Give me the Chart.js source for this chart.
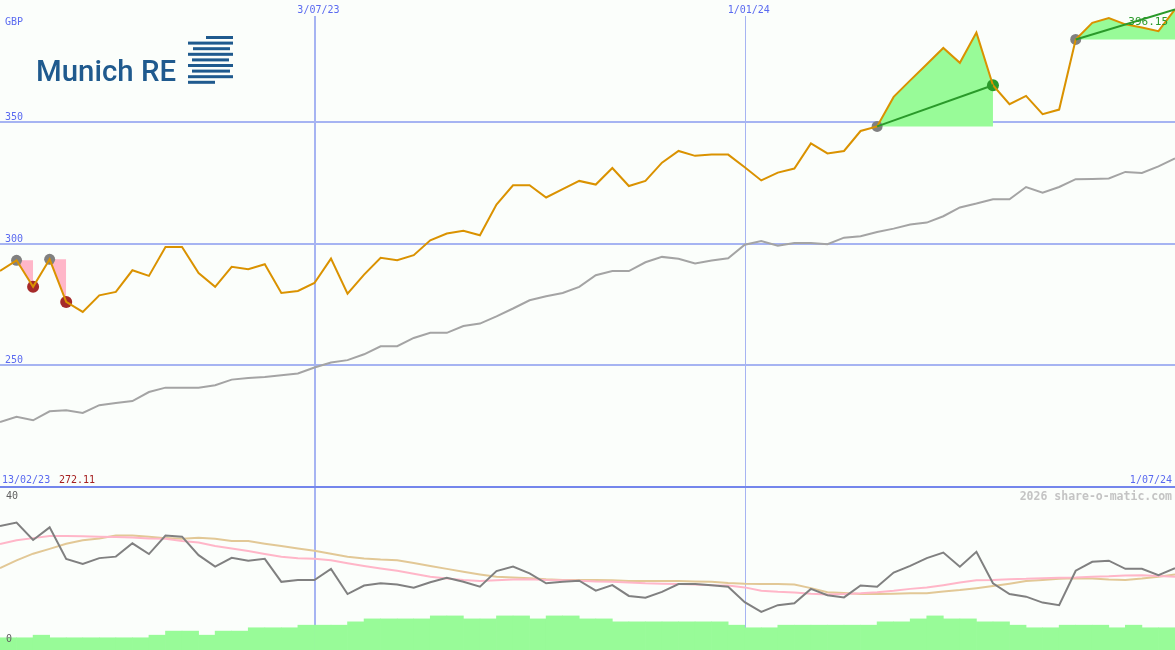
<!DOCTYPE html>
<html>
<head>
<meta charset="utf-8">
<title>Munich RE</title>
<script src="https://cdn.jsdelivr.net/npm/chart.js@4.4.1/dist/chart.umd.min.js"></script>
<style>
  html, body { margin: 0; padding: 0; background: #fbfefb; }
  #wrap { width: 1175px; height: 650px; overflow: hidden; }
  canvas { display: block; }
</style>
</head>
<body>
<div id="wrap">
  <canvas id="priceChart" width="1175" height="487"></canvas>
  <canvas id="oscChart" width="1175" height="163"></canvas>
</div>
<script>
// weekly closes, GBP (index 0 = 13/02/23, index 71 = 1/07/24)
const price = [
  288.7, 293.1, 282.2, 293.5, 276.0, 271.9, 278.7, 280.1, 289.0, 286.7,
  298.6, 298.6, 287.9, 282.2, 290.4, 289.4, 291.5, 279.7, 280.5, 283.8,
  293.8, 279.4, 287.2, 294.1, 293.1, 295.2, 301.3, 304.1, 305.2, 303.4,
  316.0, 323.9, 323.9, 318.9, 322.3, 325.7, 324.2, 331.0, 323.6, 325.7,
  333.2, 338.0, 336.0, 336.5, 336.5, 331.3, 325.9, 329.1, 330.8, 341.1,
  337.0, 338.0, 346.2, 348.1, 360.2, 367.0, 373.6, 380.3, 374.2, 386.6,
  365.0, 357.2, 360.6, 353.1, 355.0, 383.8, 390.6, 392.6, 390.0, 388.7,
  387.2, 396.15
];
const movingAvg = [
  226.7, 228.8, 227.4, 231.1, 231.5, 230.4, 233.6, 234.5, 235.3, 239.0,
  240.8, 240.8, 240.8, 241.8, 244.1, 244.8, 245.2, 245.9, 246.6, 249.1,
  251.1, 252.1, 254.5, 257.8, 257.8, 261.2, 263.3, 263.3, 266.1, 267.1,
  270.1, 273.3, 276.7, 278.3, 279.7, 282.2, 287.0, 288.7, 288.7, 292.3,
  294.5, 293.7, 291.8, 293.0, 293.9, 299.5, 301.0, 299.1, 300.2, 300.2,
  299.7, 302.4, 303.0, 304.7, 306.1, 307.8, 308.6, 311.2, 314.8, 316.4,
  318.2, 318.2, 323.2, 320.9, 323.2, 326.4, 326.5, 326.7, 329.4, 329.0,
  331.7, 334.9
];
// lower panel
const osc = [
  33.5, 34.4, 29.7, 33.1, 24.6, 23.2, 24.8, 25.2, 28.8, 25.9,
  30.9, 30.6, 25.6, 22.5, 24.9, 24.1, 24.6, 18.4, 18.9, 18.9,
  21.9, 15.1, 17.4, 18.0, 17.7, 16.8, 18.3, 19.5, 18.4, 17.1,
  21.3, 22.5, 20.7, 18.0, 18.4, 18.7, 16.0, 17.5, 14.6, 14.1,
  15.7, 17.8, 17.8, 17.5, 17.1, 12.9, 10.3, 12.1, 12.6, 16.5,
  14.8, 14.2, 17.4, 17.1, 20.9, 22.7, 24.8, 26.3, 22.5, 26.5,
  18.0, 15.1, 14.4, 12.8, 12.1, 21.4, 23.8, 24.1, 21.9, 21.9,
  20.2, 22.1
];
const oscFast = [
  28.6, 29.6, 30.2, 30.8, 30.8, 30.7, 30.6, 30.5, 30.4, 30.1,
  30.0, 29.4, 29.0, 28.1, 27.4, 26.7, 25.9, 25.2, 24.8, 24.6,
  24.2, 23.4, 22.7, 22.0, 21.4, 20.6, 19.8, 19.3, 18.9, 18.6,
  18.8, 19.0, 19.1, 18.9, 18.8, 18.7, 18.5, 18.4, 18.2, 18.0,
  17.9, 17.8, 17.7, 17.5, 17.4, 16.9, 16.0, 15.7, 15.5, 15.2,
  15.0, 15.1, 15.3, 15.6, 16.0, 16.5, 16.9, 17.5, 18.2, 18.8,
  18.9, 19.1, 19.2, 19.4, 19.5, 19.6, 19.8, 19.9, 20.1, 20.2,
  20.0, 19.8
];
const oscSlow = [
  22.1, 24.2, 26.0, 27.3, 28.7, 29.6, 30.1, 30.9, 30.9, 30.6,
  30.2, 30.0, 30.3, 30.0, 29.4, 29.4, 28.7, 28.1, 27.4, 26.8,
  26.0, 25.2, 24.7, 24.4, 24.2, 23.5, 22.7, 21.9, 21.1, 20.4,
  19.8, 19.6, 19.4, 19.1, 18.9, 18.9, 18.9, 18.8, 18.6, 18.6,
  18.6, 18.6, 18.5, 18.4, 18.1, 17.9, 17.8, 17.8, 17.7, 16.7,
  15.6, 15.4, 15.1, 15.1, 15.2, 15.3, 15.3, 15.8, 16.2, 16.7,
  17.3, 17.9, 18.6, 18.9, 19.2, 19.4, 19.3, 19.0, 18.9, 19.3,
  19.8, 20.4
];
// one bar per week interval
const volume = [
  3.3, 3.3, 4.0, 3.3, 3.3, 3.3, 3.3, 3.3, 3.3, 4.0,
  5.1, 5.1, 4.0, 5.1, 5.1, 6.0, 6.0, 6.0, 6.7, 6.7,
  6.7, 7.6, 8.4, 8.4, 8.4, 8.4, 9.2, 9.2, 8.4, 8.4,
  9.2, 9.2, 8.4, 9.2, 9.2, 8.4, 8.4, 7.6, 7.6, 7.6,
  7.6, 7.6, 7.6, 7.6, 6.7, 6.0, 6.0, 6.7, 6.7, 6.7,
  6.7, 6.7, 6.7, 7.6, 7.6, 8.4, 9.2, 8.4, 8.4, 7.6,
  7.6, 6.7, 6.0, 6.0, 6.7, 6.7, 6.7, 6.0, 6.7, 6.0,
  6.0
];

const xTickIdx = [19, 45];
const xTickLabels = ['3/07/23', '1/01/24'];
const xTickHeavy = [true, false];
const priceTicks = [250, 300, 350];
const oscTicks = [0, 40];
const startLabel = '13/02/23';
const endLabel = '1/07/24';
const startPrice = '272.11';
const lastPrice = '396.15';

const tradeEntry = [1, 3, 53, 65];
const tradeExit = [2, 4, 60, 71];
const tradeOpen = [false, false, false, true];

const W = 1175;
const MONO = '"DejaVu Sans Mono", monospace';
const BLUE_TXT = '#5a6af0';
const GRID = '#a6b4f2';
const pts = arr => arr.map((v, i) => ({ x: i, y: v }));

// ---------- price panel ----------
const priceDatasets = [];
tradeEntry.forEach((e, k) => {
    const x = tradeExit[k];
    const win = price[x] > price[e];
    priceDatasets.push({
        data: price.slice(e, x + 1).map((v, j) => ({ x: e + j, y: v })),
        borderWidth: 0, pointRadius: 0,
        backgroundColor: win ? '#98fb98' : '#ffb6c8',
        fill: { value: price[e] },
        order: 6
    });
    if (win) {
        priceDatasets.push({
            data: [{ x: e, y: price[e] }, { x: x, y: price[x] }],
            borderColor: '#2a9a2a', borderWidth: 2, pointRadius: 0, fill: false, order: 0
        });
    }
});
priceDatasets.push({
    data: tradeEntry.map(i => ({ x: i, y: price[i] })),
    showLine: false, pointRadius: 5.5, pointBorderWidth: 0,
    pointBackgroundColor: '#808080', order: 4
});
const closed = tradeExit.filter((_, k) => !tradeOpen[k]);
priceDatasets.push({
    data: closed.map(i => ({ x: i, y: price[i] })),
    showLine: false, pointRadius: 6, pointBorderWidth: 0,
    pointBackgroundColor: closed.map(i => {
        const k = tradeExit.indexOf(i);
        return price[i] > price[tradeEntry[k]] ? '#2a9a2a' : '#a52a2a';
    }),
    order: 3
});
priceDatasets.push({
    data: pts(price), borderColor: '#da9200', borderWidth: 2,
    pointRadius: 0, fill: false, order: 1
});
priceDatasets.push({
    data: pts(movingAvg), borderColor: '#a4a4a4', borderWidth: 2,
    pointRadius: 0, fill: false, order: 5
});

function drawLogo(ctx) {
    ctx.save();
    ctx.fillStyle = '#1f5a8e';
    ctx.font = '500 30px Roboto, "Liberation Sans", sans-serif';
    ctx.textBaseline = 'alphabetic';
    ctx.textAlign = 'left';
    const t = 'Munich RE';
    const w = ctx.measureText(t).width;
    ctx.translate(36, 81);
    ctx.scale(140 / w, 1);
    ctx.fillText(t, 0, 0);
    ctx.restore();
    // striped sphere mark
    const stripes = [[206, 233], [188, 233], [193, 230], [188, 233], [192, 229],
                     [188, 233], [192, 230], [188, 233], [188, 215]];
    ctx.fillStyle = '#1f5a8e';
    stripes.forEach((s, i) => {
        ctx.fillRect(s[0], 36 + i * 5.6, s[1] - s[0], 3);
    });
}

const priceDecor = {
    id: 'priceDecor',
    beforeDatasetsDraw(chart) {
        const ctx = chart.ctx, sx = chart.scales.x, sy = chart.scales.y;
        ctx.save();
        ctx.fillStyle = GRID;
        priceTicks.forEach(v => {
            const py = Math.round(sy.getPixelForValue(v));
            ctx.fillRect(0, py - 1, W, 2);
        });
        xTickIdx.forEach((t, i) => {
            const px = sx.getPixelForValue(t);
            if (xTickHeavy[i]) ctx.fillRect(Math.floor(px), 16, 2, chart.height - 16);
            else ctx.fillRect(Math.round(px), 16, 1, chart.height - 16);
        });
        ctx.restore();
    },
    afterDraw(chart) {
        const ctx = chart.ctx, sx = chart.scales.x, sy = chart.scales.y;
        ctx.save();
        ctx.fillStyle = '#7486ec';
        ctx.fillRect(0, chart.height - 1, W, 1);
        ctx.font = '10px ' + MONO;
        ctx.textBaseline = 'alphabetic';
        ctx.fillStyle = BLUE_TXT;
        ctx.textAlign = 'left';
        ctx.fillText('GBP', 5, 25);
        priceTicks.forEach(v => {
            ctx.fillText(String(v), 5, Math.round(sy.getPixelForValue(v)) - 2);
        });
        ctx.textAlign = 'center';
        xTickIdx.forEach((t, i) => {
            ctx.fillText(xTickLabels[i], sx.getPixelForValue(t) + 4, 13);
        });
        ctx.textAlign = 'left';
        ctx.fillText(startLabel, 2, 483);
        ctx.fillStyle = '#a52020';
        ctx.fillText(startPrice, 59, 483);
        ctx.fillStyle = BLUE_TXT;
        ctx.textAlign = 'right';
        ctx.fillText(endLabel, 1172, 483);
        ctx.fillStyle = '#2a9a2a';
        ctx.font = '11px ' + MONO;
        ctx.fillText(lastPrice, 1168, 25);
        ctx.restore();
        drawLogo(ctx);
    }
};

new Chart(document.getElementById('priceChart'), {
    type: 'line',
    data: { datasets: priceDatasets },
    options: {
        responsive: false,
        animation: false,
        events: [],
        layout: { padding: 0, autoPadding: false },
        elements: { line: { tension: 0 } },
        plugins: { legend: { display: false }, tooltip: { enabled: false } },
        scales: {
            x: { type: 'linear', min: 0, max: price.length - 1, display: false },
            y: { type: 'linear', min: 200, max: 400, display: false }
        }
    },
    plugins: [priceDecor]
});

// ---------- oscillator / volume panel ----------
const oscDecor = {
    id: 'oscDecor',
    beforeDatasetsDraw(chart) {
        const ctx = chart.ctx, sx = chart.scales.x;
        ctx.save();
        ctx.fillStyle = GRID;
        xTickIdx.forEach((t, i) => {
            const px = sx.getPixelForValue(t);
            if (xTickHeavy[i]) ctx.fillRect(Math.floor(px), 0, 2, chart.height);
            else ctx.fillRect(Math.round(px), 0, 1, chart.height);
        });
        ctx.restore();
    },
    afterDraw(chart) {
        const ctx = chart.ctx, sy = chart.scales.y;
        ctx.save();
        ctx.fillStyle = '#7486ec';
        ctx.fillRect(0, 0, W, 1);
        ctx.font = '10px ' + MONO;
        ctx.fillStyle = '#606060';
        ctx.textAlign = 'left';
        oscTicks.forEach(v => {
            const py = Math.min(sy.getPixelForValue(v), chart.height - 5);
            ctx.fillText(String(v), 6, Math.round(py) - 3);
        });
        ctx.fillStyle = '#c4c4c4';
        ctx.font = 'bold 11.5px ' + MONO;
        ctx.textAlign = 'right';
        ctx.fillText('2026 share-o-matic.com', 1172, 13);
        ctx.restore();
    }
};

new Chart(document.getElementById('oscChart'), {
    type: 'bar',
    data: {
        datasets: [
            {
                type: 'bar',
                data: volume.map((v, i) => ({ x: i + 0.5, y: v })),
                backgroundColor: '#98fb98', borderWidth: 0,
                barPercentage: 1, categoryPercentage: 1, order: 0
            },
            { type: 'line', data: pts(osc), borderColor: '#808080', borderWidth: 2, pointRadius: 0, order: 1 },
            { type: 'line', data: pts(oscFast), borderColor: '#ffb6c8', borderWidth: 2, pointRadius: 0, order: 2 },
            { type: 'line', data: pts(oscSlow), borderColor: '#e2c896', borderWidth: 2, pointRadius: 0, order: 3 }
        ]
    },
    options: {
        responsive: false,
        animation: false,
        events: [],
        layout: { padding: 0, autoPadding: false },
        elements: { line: { tension: 0 } },
        plugins: { legend: { display: false }, tooltip: { enabled: false } },
        scales: {
            x: { type: 'linear', min: 0, max: price.length - 1, offset: false, display: false },
            y: { type: 'linear', min: 0, max: 44, display: false }
        }
    },
    plugins: [oscDecor]
});
</script>
</body>
</html>
